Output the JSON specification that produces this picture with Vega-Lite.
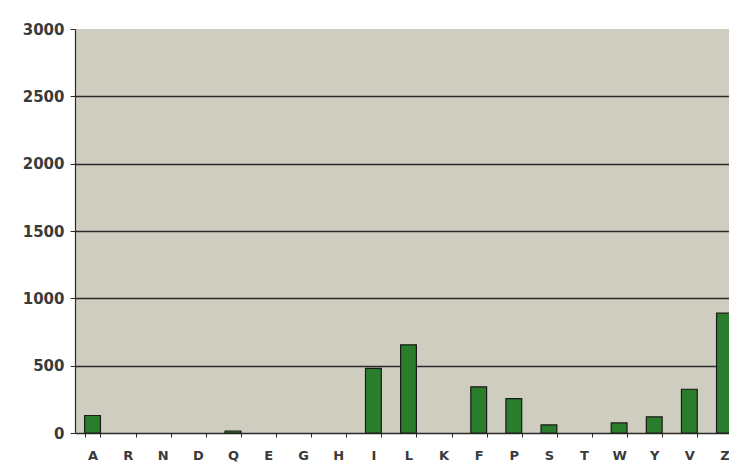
{
  "$schema": "https://vega.github.io/schema/vega-lite/v6.json",
  "width": 654,
  "height": 404,
  "autosize": {"type": "none"},
  "padding": {"left": 75, "top": 29, "right": 0, "bottom": 40},
  "background": "#ffffff",
  "config": {
    "view": {"fill": "#cfcdc0", "stroke": null},
    "axis": {
      "labelFont": "DejaVu Sans",
      "labelFontWeight": "bold",
      "labelColor": "#3a3a3a",
      "domainColor": "#2b2b2b",
      "tickColor": "#2b2b2b",
      "title": null
    }
  },
  "data": {
    "values": [
      {"residue": "A", "count": 130},
      {"residue": "R", "count": 0},
      {"residue": "N", "count": 0},
      {"residue": "D", "count": 0},
      {"residue": "Q", "count": 15},
      {"residue": "E", "count": 0},
      {"residue": "G", "count": 0},
      {"residue": "H", "count": 0},
      {"residue": "I", "count": 480},
      {"residue": "L", "count": 655},
      {"residue": "K", "count": 0},
      {"residue": "F", "count": 343},
      {"residue": "P", "count": 255},
      {"residue": "S", "count": 60},
      {"residue": "T", "count": 0},
      {"residue": "W", "count": 75},
      {"residue": "Y", "count": 120},
      {"residue": "V", "count": 325},
      {"residue": "Z", "count": 890}
    ]
  },
  "mark": {"type": "bar", "color": "#2a7d2a", "stroke": "#1a1a1a", "clip": false},
  "encoding": {
    "x": {
      "field": "residue",
      "type": "nominal",
      "sort": null,
      "scale": {"range": [0, 667], "paddingInner": 0.55, "paddingOuter": 0.275},
      "axis": {
        "labelAngle": 0,
        "labelFontSize": 13,
        "tickBand": "extent",
        "tickSize": 4,
        "labelPadding": 12,
        "domainWidth": 1.5
      }
    },
    "y": {
      "field": "count",
      "type": "quantitative",
      "scale": {"domain": [0, 3000], "nice": false},
      "axis": {
        "values": [0, 500, 1000, 1500, 2000, 2500, 3000],
        "format": "d",
        "labelFontSize": 15,
        "tickSize": 5,
        "labelPadding": 6,
        "domainWidth": 1.2,
        "grid": true,
        "gridColor": "#2a2a2a",
        "gridWidth": 1.5,
        "gridOpacity": {"condition": {"test": "datum.value === 3000 || datum.value === 0", "value": 0}, "value": 1}
      }
    },
    "strokeWidth": {"condition": {"test": "datum.count === 0", "value": 0}, "value": 1.2}
  }
}
